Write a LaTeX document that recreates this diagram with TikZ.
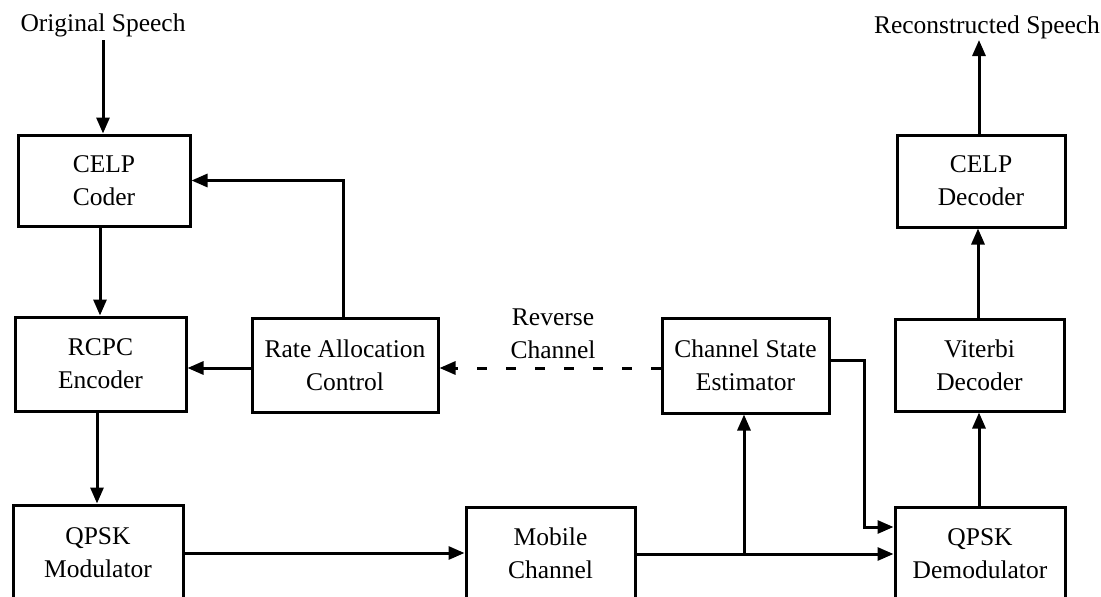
\documentclass[tikz,border=0pt]{standalone}
\usepackage{fontspec}
\setmainfont{Liberation Serif}
\usetikzlibrary{arrows.meta,calc}
\begin{document}
\begin{tikzpicture}[x=1pt,y=-1pt,
  font=\fontsize{25.5}{33}\selectfont,
  line width=3pt,
  blk/.style={draw,line width=3pt,inner sep=0pt,align=center},
  lbl/.style={inner sep=0pt,align=center},
  arr/.style={-{Triangle[length=16pt,width=13pt]}},
  revdash/.style={dash pattern=on 10pt off 19pt}]
\useasboundingbox (0,0) rectangle (1101,597);
\clip (0,0) rectangle (1101,597);

% transmitter chain
\node[blk,minimum width=172pt,minimum height=91pt] (coder) at (104,180.5) {CELP\\Coder};
\node[blk,minimum width=171pt,minimum height=94pt] (rcpc) at (100.5,364) {RCPC\\Encoder};
\node[blk,minimum width=186pt,minimum height=94pt] (rate) at (345,365) {Rate Allocation\\Control};
\node[blk,minimum width=170pt,minimum height=95pt] (mod) at (98,552.5) {QPSK\\Modulator};

% channel
\node[blk,minimum width=169pt,minimum height=93pt] (mobile) at (550.5,553.5) {Mobile\\Channel};
\node[blk,minimum width=167pt,minimum height=95pt] (cse) at (745.5,365.5) {Channel State\\Estimator};

% receiver chain
\node[blk,minimum width=168pt,minimum height=92pt] (cdec) at (981,181) {CELP\\Decoder};
\node[blk,minimum width=169pt,minimum height=92pt] (vit) at (979.5,365) {Viterbi\\Decoder};
\node[blk,minimum width=170pt,minimum height=93pt] (demod) at (980,553.5) {QPSK\\Demodulator};

% free labels
\node[lbl] (orig) at (103,25) {Original Speech};
\node[lbl] (recon) at (987,27) {Reconstructed Speech};
\node[lbl] (rev) at (553,334) {Reverse\\Channel};

% connectors
\coordinate (origend) at (103,40);
\draw[arr] (origend) -- (origend |- coder.north);
\draw[arr] (coder.south -| 100,0) -- (100,0 |- rcpc.north);
\draw[arr] (rcpc.south -| 97,0) -- (97,0 |- mod.north);
\draw[arr] (rate.north -| 343,0) |- (coder.east);
\draw[arr] (rate.west |- 0,368) -- (rcpc.east |- 0,368);
\draw[arr] (mod.east |- 0,553) -- (mobile.west |- 0,553);

\draw[arr,revdash] (cse.west |- 0,368) -- (rate.east |- 0,368);

\coordinate (tap) at (744,554);
\draw[arr] (mobile.east |- tap) -- (demod.west |- tap);
\draw[arr] (tap) -- (tap |- cse.south);

\coordinate (bend) at (864,360);
\draw[arr] (cse.east |- bend) -- (bend) -- (864,527) -- (demod.west |- 0,527);

\draw[arr] (demod.north -| 979,0) -- (979,0 |- vit.south);
\draw[arr] (vit.north -| 978,0) -- (978,0 |- cdec.south);
\coordinate (reconend) at (979,40);
\draw[arr] (cdec.north -| reconend) -- (reconend);
\end{tikzpicture}
\end{document}
